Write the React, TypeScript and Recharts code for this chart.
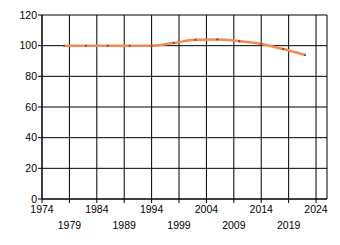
import React from 'react';
import { LineChart, Line, XAxis, YAxis, CartesianGrid } from 'recharts';

const years = [1978, 1982, 1986, 1990, 1994, 1998, 2002, 2006, 2010, 2014, 2018, 2022];
const values = [100, 100, 100, 100, 100, 101.7, 103.9, 104, 102.9, 101.1, 97.8, 93.9];
const xTicks = [1974, 1979, 1984, 1989, 1994, 1999, 2004, 2009, 2014, 2019, 2024];
const yTicks = [0, 20, 40, 60, 80, 100, 120];

const data = years.map((year, i) => ({ year, value: values[i] }));

const font = '"Liberation Sans", Arial, sans-serif';

const XTick = (props: any) => {
  const { x, y, payload } = props;
  const lower = ((payload.value - 1974) / 5) % 2 === 1;
  return (
    <text x={x} y={y + (lower ? 24 : 8)} textAnchor="middle" fontSize={10.5} fontFamily={font} fill="#000">
      {payload.value}
    </text>
  );
};

export default function App() {
  return (
    <div style={{ position: 'absolute', left: 0, top: 0, background: '#fff' }}>
      <LineChart width={340} height={245} data={data} margin={{ top: 15, right: 13, left: 0, bottom: 0 }}>
        <CartesianGrid stroke="#000" strokeWidth={1} />
        <XAxis
          dataKey="year"
          type="number"
          domain={[1974, 2026]}
          ticks={xTicks}
          allowDataOverflow
          height={46}
          stroke="#000"
          tickSize={4}
          tick={<XTick />}
          interval={0}
        />
        <YAxis
          domain={[0, 120]}
          ticks={yTicks}
          width={42}
          stroke="#000"
          tickSize={4}
          tickMargin={1}
          tick={{ fill: '#000', fontSize: 10.5, fontFamily: font }}
          interval={0}
        />
        <Line
          type="monotone"
          dataKey="value"
          stroke="#f5894f"
          strokeWidth={2.5}
          dot={{ r: 1, fill: '#444', stroke: 'none' }}
          activeDot={false}
          isAnimationActive={false}
        />
      </LineChart>
    </div>
  );
}
